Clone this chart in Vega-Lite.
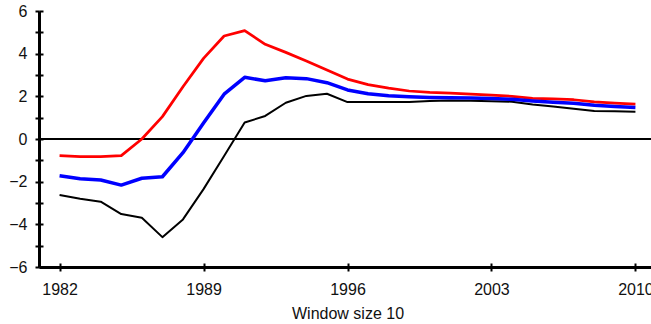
{
  "$schema": "https://vega.github.io/schema/vega-lite/v6.json",
  "autosize": "none",
  "width": 617,
  "height": 256,
  "padding": {"left": 39, "top": 11, "right": 0, "bottom": 57},
  "config": {
    "view": {"stroke": null},
    "font": "Liberation Sans",
    "axis": {"grid": false, "labelFont": "Liberation Sans", "titleFont": "Liberation Sans", "labelColor": "#111", "titleColor": "#111", "domainColor": "black", "tickColor": "black"}
  },
  "data": {"values": [
    {"year": 1982, "series": "Black", "value": -2.63},
    {"year": 1983, "series": "Black", "value": -2.8},
    {"year": 1984, "series": "Black", "value": -2.94},
    {"year": 1985, "series": "Black", "value": -3.52},
    {"year": 1986, "series": "Black", "value": -3.69},
    {"year": 1987, "series": "Black", "value": -4.6},
    {"year": 1988, "series": "Black", "value": -3.77},
    {"year": 1989, "series": "Black", "value": -2.35},
    {"year": 1990, "series": "Black", "value": -0.8},
    {"year": 1991, "series": "Black", "value": 0.77},
    {"year": 1992, "series": "Black", "value": 1.08},
    {"year": 1993, "series": "Black", "value": 1.7},
    {"year": 1994, "series": "Black", "value": 2.02},
    {"year": 1995, "series": "Black", "value": 2.12},
    {"year": 1996, "series": "Black", "value": 1.73},
    {"year": 1997, "series": "Black", "value": 1.73},
    {"year": 1998, "series": "Black", "value": 1.73},
    {"year": 1999, "series": "Black", "value": 1.73},
    {"year": 2000, "series": "Black", "value": 1.78},
    {"year": 2001, "series": "Black", "value": 1.8},
    {"year": 2002, "series": "Black", "value": 1.79},
    {"year": 2003, "series": "Black", "value": 1.77},
    {"year": 2004, "series": "Black", "value": 1.75},
    {"year": 2005, "series": "Black", "value": 1.62},
    {"year": 2006, "series": "Black", "value": 1.52},
    {"year": 2007, "series": "Black", "value": 1.42},
    {"year": 2008, "series": "Black", "value": 1.31},
    {"year": 2009, "series": "Black", "value": 1.3},
    {"year": 2010, "series": "Black", "value": 1.28},
    {"year": 1982, "series": "Red", "value": -0.78},
    {"year": 1983, "series": "Red", "value": -0.83},
    {"year": 1984, "series": "Red", "value": -0.83},
    {"year": 1985, "series": "Red", "value": -0.78},
    {"year": 1986, "series": "Red", "value": 0.0},
    {"year": 1987, "series": "Red", "value": 1.05},
    {"year": 1988, "series": "Red", "value": 2.45},
    {"year": 1989, "series": "Red", "value": 3.78},
    {"year": 1990, "series": "Red", "value": 4.83},
    {"year": 1991, "series": "Red", "value": 5.08},
    {"year": 1992, "series": "Red", "value": 4.44},
    {"year": 1993, "series": "Red", "value": 4.06},
    {"year": 1994, "series": "Red", "value": 3.66},
    {"year": 1995, "series": "Red", "value": 3.23},
    {"year": 1996, "series": "Red", "value": 2.81},
    {"year": 1997, "series": "Red", "value": 2.55},
    {"year": 1998, "series": "Red", "value": 2.38},
    {"year": 1999, "series": "Red", "value": 2.25},
    {"year": 2000, "series": "Red", "value": 2.18},
    {"year": 2001, "series": "Red", "value": 2.15},
    {"year": 2002, "series": "Red", "value": 2.1},
    {"year": 2003, "series": "Red", "value": 2.06},
    {"year": 2004, "series": "Red", "value": 2.0},
    {"year": 2005, "series": "Red", "value": 1.9},
    {"year": 2006, "series": "Red", "value": 1.88},
    {"year": 2007, "series": "Red", "value": 1.84},
    {"year": 2008, "series": "Red", "value": 1.74},
    {"year": 2009, "series": "Red", "value": 1.68},
    {"year": 2010, "series": "Red", "value": 1.63},
    {"year": 1982, "series": "Blue", "value": -1.72},
    {"year": 1983, "series": "Blue", "value": -1.86},
    {"year": 1984, "series": "Blue", "value": -1.92},
    {"year": 1985, "series": "Blue", "value": -2.16},
    {"year": 1986, "series": "Blue", "value": -1.84},
    {"year": 1987, "series": "Blue", "value": -1.77},
    {"year": 1988, "series": "Blue", "value": -0.64},
    {"year": 1989, "series": "Blue", "value": 0.75},
    {"year": 1990, "series": "Blue", "value": 2.1},
    {"year": 1991, "series": "Blue", "value": 2.89},
    {"year": 1992, "series": "Blue", "value": 2.73},
    {"year": 1993, "series": "Blue", "value": 2.87},
    {"year": 1994, "series": "Blue", "value": 2.83},
    {"year": 1995, "series": "Blue", "value": 2.64},
    {"year": 1996, "series": "Blue", "value": 2.3},
    {"year": 1997, "series": "Blue", "value": 2.12},
    {"year": 1998, "series": "Blue", "value": 2.03},
    {"year": 1999, "series": "Blue", "value": 1.98},
    {"year": 2000, "series": "Blue", "value": 1.95},
    {"year": 2001, "series": "Blue", "value": 1.93},
    {"year": 2002, "series": "Blue", "value": 1.92},
    {"year": 2003, "series": "Blue", "value": 1.9},
    {"year": 2004, "series": "Blue", "value": 1.86},
    {"year": 2005, "series": "Blue", "value": 1.78},
    {"year": 2006, "series": "Blue", "value": 1.72},
    {"year": 2007, "series": "Blue", "value": 1.68},
    {"year": 2008, "series": "Blue", "value": 1.58},
    {"year": 2009, "series": "Blue", "value": 1.52},
    {"year": 2010, "series": "Blue", "value": 1.48}
  ]},
  "resolve": {"axis": {"x": "independent", "y": "independent"}},
  "layer": [
    {
      "mark": {"type": "rule", "color": "black", "strokeWidth": 2.2},
      "encoding": {
        "x": {"datum": 1981, "type": "quantitative", "scale": {"domain": [1981, 2011], "nice": false, "zero": false},
          "axis": {"orient": "bottom", "labels": false, "domain": false, "title": null, "values": [1982, 1989, 1996, 2003, 2010], "tickSize": -4, "tickWidth": 2}},
        "x2": {"datum": 2011},
        "y": {"datum": 0, "type": "quantitative", "scale": {"domain": [-6, 6], "nice": false},
          "axis": {"orient": "left", "labels": false, "domain": false, "title": null, "values": [-6, -5, -4, -3, -2, -1, 0, 1, 2, 3, 4, 5, 6], "tickSize": -4, "tickWidth": 2}}
      }
    },
    {
      "mark": {"type": "line", "strokeJoin": "round", "strokeCap": "butt"},
      "encoding": {
        "x": {"field": "year", "type": "quantitative", "scale": {"domain": [1981, 2011], "nice": false, "zero": false},
          "axis": {"orient": "bottom", "title": "Window size 10", "values": [1982, 1989, 1996, 2003, 2010], "format": "d", "tickSize": 4, "tickWidth": 2, "domainWidth": 3, "labelFontSize": 16, "titleFontSize": 16, "titleFontWeight": "normal", "labelPadding": 10, "titlePadding": 8}},
        "y": {"field": "value", "type": "quantitative", "scale": {"domain": [-6, 6], "nice": false},
          "axis": {"orient": "left", "title": null, "values": [-6, -5, -4, -3, -2, -1, 0, 1, 2, 3, 4, 5, 6], "labelExpr": "datum.value % 2 == 0 ? datum.label : ''", "tickSize": 4, "tickWidth": 2, "domainWidth": 3, "labelFontSize": 16, "labelPadding": 8}},
        "color": {"field": "series", "type": "nominal", "scale": {"domain": ["Black", "Red", "Blue"], "range": ["black", "#ff0000", "#0000ff"]}, "legend": null},
        "strokeWidth": {"field": "series", "type": "nominal", "scale": {"domain": ["Black", "Red", "Blue"], "range": [2, 3.5, 5]}, "legend": null}
      }
    }
  ]
}
